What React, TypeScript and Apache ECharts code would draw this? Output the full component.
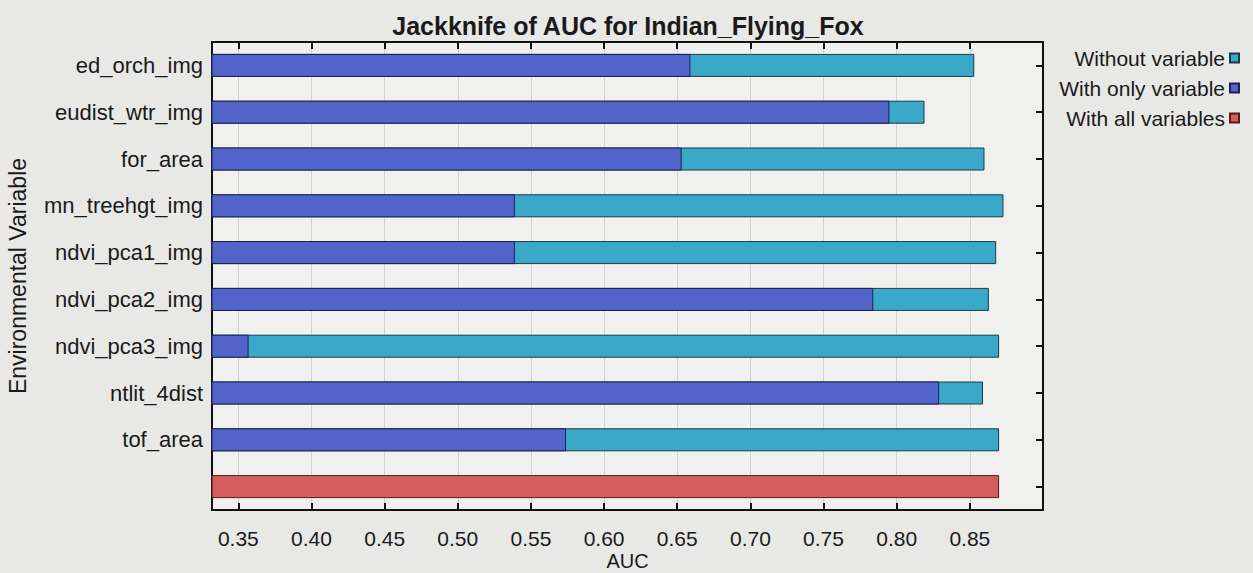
import React, { useEffect, useRef } from "react";
import * as echarts from "echarts";

const variables = [
  "ed_orch_img",
  "eudist_wtr_img",
  "for_area",
  "mn_treehgt_img",
  "ndvi_pca1_img",
  "ndvi_pca2_img",
  "ndvi_pca3_img",
  "ntlit_4dist",
  "tof_area",
];
const withoutVariable = [0.853, 0.819, 0.86, 0.873, 0.868, 0.863, 0.87, 0.859, 0.87];
const withOnlyVariable = [0.659, 0.795, 0.653, 0.539, 0.539, 0.784, 0.357, 0.829, 0.574];
const withAllVariables = 0.87;
const xTickLabels = ["0.35", "0.40", "0.45", "0.50", "0.55", "0.60", "0.65", "0.70", "0.75", "0.80", "0.85"];

const FONT = "Liberation Sans, Arial, sans-serif";

export default function App() {
  const ref = useRef<HTMLDivElement>(null);
  useEffect(() => {
    if (!ref.current) return;
    const chart = echarts.init(ref.current, null, { renderer: "svg" });
    const cats = [...variables, ""];
    const dash = "-";
    const xCommon = {
      type: "value" as const,
      min: 0.332,
      max: 0.9,
      minInterval: 0.05,
      maxInterval: 0.05,
      axisLine: { show: true, lineStyle: { color: "#111", width: 2 } },
      axisTick: { show: true, inside: true, length: 7, lineStyle: { color: "#111", width: 2 } },
    };
    chart.setOption({
      animation: false,
      backgroundColor: "#e8e8e6",
      title: {
        text: "Jackknife of AUC for Indian_Flying_Fox",
        left: 623,
        textAlign: "center",
        top: 8,
        textStyle: { fontFamily: FONT, fontSize: 25, fontWeight: "bold", color: "#1a1a1a" },
      },
      legend: {
        orient: "vertical",
        right: 8,
        top: 40,
        align: "right",
        icon: "rect",
        itemWidth: 9,
        itemHeight: 9,
        itemGap: 4,
        textStyle: { fontFamily: FONT, fontSize: 21, color: "#1a1a1a", lineHeight: 26 },
        data: ["Without variable", "With only variable", "With all variables"],
      },
      grid: {
        left: 212,
        right: 210,
        top: 42,
        bottom: 63,
        show: true,
        backgroundColor: "#f0f1ef",
        borderWidth: 0,
        containLabel: false,
        outerBoundsMode: "none",
      },
      xAxis: [
        {
          ...xCommon,
          position: "bottom",
          name: "AUC",
          nameLocation: "middle",
          nameGap: 41,
          nameMoveOverlap: false,
          nameTextStyle: { fontFamily: FONT, fontSize: 20, color: "#1a1a1a" },
          axisLabel: {
            margin: 18,
            fontFamily: FONT,
            fontSize: 21,
            color: "#1a1a1a",
            showMinLabel: false,
            showMaxLabel: false,
            formatter: (v: number) => {
              const s = v.toFixed(2);
              return xTickLabels.includes(s) ? s : "";
            },
          },
          splitLine: { show: true, lineStyle: { color: "#cfd2d1", width: 1 } },
        },
        {
          ...xCommon,
          position: "top",
          axisLabel: { show: false },
          splitLine: { show: false },
        },
      ],
      yAxis: [
        {
          type: "category",
          inverse: true,
          data: cats,
          position: "left",
          name: "Environmental Variable",
          nameLocation: "middle",
          nameGap: 183,
          nameMoveOverlap: false,
          nameTextStyle: { fontFamily: FONT, fontSize: 23, color: "#1a1a1a" },
          axisLine: { show: true, lineStyle: { color: "#111", width: 2 } },
          axisTick: { show: false },
          axisLabel: { fontFamily: FONT, fontSize: 22, color: "#1a1a1a", margin: 9 },
          splitLine: { show: false },
        },
        {
          type: "category",
          inverse: true,
          data: cats,
          position: "right",
          axisLine: { show: true, lineStyle: { color: "#111", width: 2 } },
          axisTick: { show: true, inside: true, alignWithLabel: true, length: 7, lineStyle: { color: "#111", width: 2 } },
          axisLabel: { show: false },
          splitLine: { show: false },
        },
      ],
      series: [
        {
          name: "Without variable",
          type: "bar",
          yAxisIndex: 0,
          barWidth: 23,
          barGap: "-100%",
          data: [...withoutVariable, dash],
          itemStyle: { color: "#3aa9c9", borderColor: "#1c3a44", borderWidth: 1 },
        },
        {
          name: "With only variable",
          type: "bar",
          yAxisIndex: 0,
          barWidth: 23,
          barGap: "-100%",
          data: [...withOnlyVariable, dash],
          itemStyle: { color: "#5264c9", borderColor: "#1a2050", borderWidth: 1 },
        },
        {
          name: "With all variables",
          type: "bar",
          yAxisIndex: 0,
          barWidth: 23,
          barGap: "-100%",
          data: [...variables.map(() => dash), withAllVariables],
          itemStyle: { color: "#d25e5e", borderColor: "#5a1a1a", borderWidth: 1 },
        },
      ],
    });
    return () => chart.dispose();
  }, []);
  return (
    <div
      ref={ref}
      style={{ position: "fixed", left: 0, top: 0, width: 1253, height: 573 }}
    />
  );
}
